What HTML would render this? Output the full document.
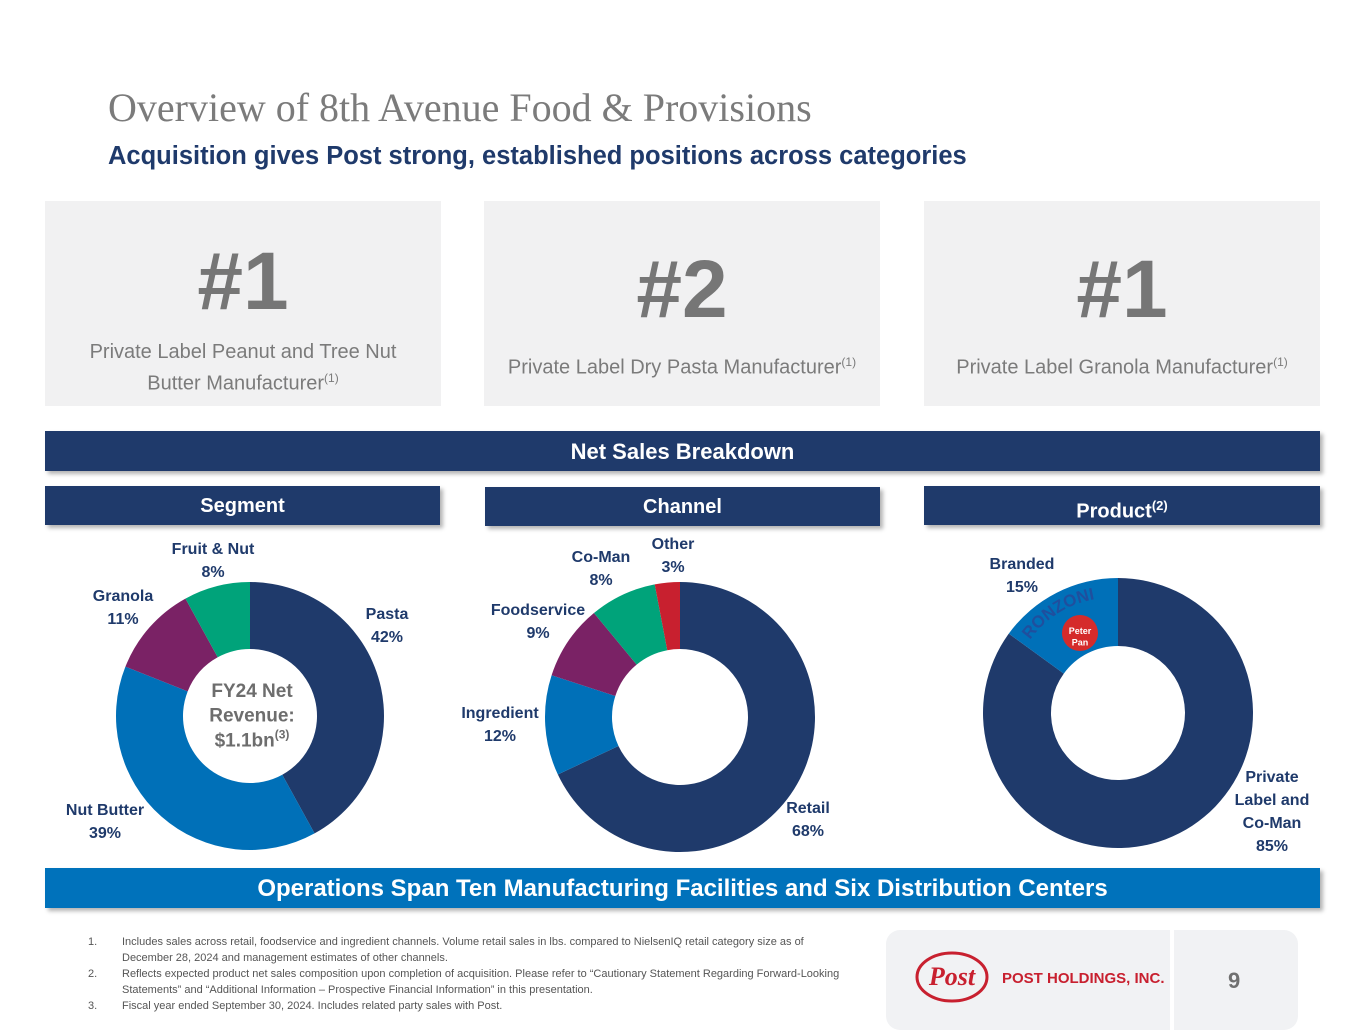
<!DOCTYPE html>
<html><head><meta charset="utf-8">
<style>
*{margin:0;padding:0;box-sizing:border-box}
body{width:1365px;height:1024px;background:#fff;position:relative;overflow:hidden;font-family:"Liberation Sans",sans-serif}
.abs{position:absolute}
.title{left:108px;top:84px;font-family:"Liberation Serif",serif;font-size:40px;color:#7b7b7b}
.sub{left:108px;top:142px;font-size:25.5px;font-weight:bold;color:#1f3a6b}
.box{top:201px;height:205px;width:396px;background:#f1f1f2;text-align:center;color:#7b7b7b}
.box .big{font-size:82px;font-weight:bold;color:#767676;margin-top:36px;line-height:90px}
.box .t{font-size:20px;line-height:26px;margin-top:8px}
.bar{background:#1f3a6b;color:#fff;font-weight:bold;text-align:center;box-shadow:3px 3px 4px rgba(0,0,0,.3)}
.foot{left:88px;font-size:11px;color:#555;line-height:16px;width:760px}
.foot span{position:absolute;left:0}
.foot div{margin-left:34px}
</style></head><body>
<div class="abs title">Overview of 8th Avenue Food &amp; Provisions</div>
<div class="abs sub">Acquisition gives Post strong, established positions across categories</div>

<div class="abs box" style="left:45px"><div class="big">#1</div><div class="t" style="margin-top:12px">Private Label Peanut and Tree Nut<br>Butter Manufacturer<sup style="font-size:12px">(1)</sup></div></div>
<div class="abs box" style="left:484px"><div class="big" style="margin-top:44px">#2</div><div class="t" style="margin-top:14px">Private Label Dry Pasta Manufacturer<sup style="font-size:12px">(1)</sup></div></div>
<div class="abs box" style="left:924px"><div class="big" style="margin-top:44px">#1</div><div class="t" style="margin-top:14px">Private Label Granola Manufacturer<sup style="font-size:12px">(1)</sup></div></div>

<div class="abs bar" style="left:45px;top:431px;width:1275px;height:40px;line-height:42px;font-size:22px">Net Sales Breakdown</div>
<div class="abs bar" style="left:45px;top:486px;width:395px;height:39px;line-height:40px;font-size:20px">Segment</div>
<div class="abs bar" style="left:485px;top:487px;width:395px;height:39px;line-height:40px;font-size:20px">Channel</div>
<div class="abs bar" style="left:924px;top:486px;width:396px;height:39px;line-height:40px;font-size:20px">Product<sup style="font-size:13px">(2)</sup></div>

<svg class="abs" style="left:0;top:0" width="1365" height="1024" id="charts"></svg>

<div class="abs bar" style="left:45px;top:868px;width:1275px;height:40px;line-height:42px;font-size:24px;background:#0072bb">Operations Span Ten Manufacturing Facilities and Six Distribution Centers</div>

<div class="abs foot" style="top:934px">
<p style="position:relative"><span>1.</span><div>Includes sales across retail, foodservice and ingredient channels. Volume retail sales in lbs. compared to NielsenIQ retail category size as of December 28, 2024 and management estimates of other channels.</div></p>
<p style="position:relative"><span>2.</span><div>Reflects expected product net sales composition upon completion of acquisition. Please refer to “Cautionary Statement Regarding Forward-Looking Statements” and “Additional Information – Prospective Financial Information” in this presentation.</div></p>
<p style="position:relative"><span>3.</span><div>Fiscal year ended September 30, 2024. Includes related party sales with Post.</div></p>
</div>

<div class="abs" style="left:886px;top:930px;width:412px;height:100px;background:#f1f2f4;border-radius:14px">
<div class="abs" style="left:284px;top:0;width:4px;height:100px;background:#fff"></div>
<svg class="abs" style="left:28px;top:20px" width="80" height="56"><ellipse cx="38" cy="27" rx="35" ry="24" fill="none" stroke="#c8202f" stroke-width="3"/><text x="38" y="35" text-anchor="middle" font-family="Liberation Serif" font-style="italic" font-weight="bold" font-size="26" fill="#c8202f">Post</text></svg>
<div class="abs" style="left:116px;top:40px;font-size:15px;font-weight:bold;color:#c8202f">POST HOLDINGS, INC.</div>
<div class="abs" style="left:342px;top:38px;font-size:22px;font-weight:bold;color:#707070">9</div>
</div>

<script>
const segCats=["Pasta","Nut Butter","Granola","Fruit & Nut"];
const segVals=[42,39,11,8];
const chCats=["Retail","Ingredient","Foodservice","Co-Man","Other"];
const chVals=[68,12,9,8,3];
const prCats=["Private Label and Co-Man","Branded"];
const prVals=[85,15];
const NS="http://www.w3.org/2000/svg";
const svg=document.getElementById('charts');
function pt(cx,cy,r,a){return [cx+r*Math.sin(a),cy-r*Math.cos(a)];}
function donut(cx,cy,ro,ri,vals,cats,colors,name){
  const tot=vals.reduce((a,b)=>a+b,0);let acc=0;
  vals.forEach((v,i)=>{
    const a0=acc/tot*2*Math.PI;acc+=v;const a1=acc/tot*2*Math.PI;
    const lg=(a1-a0)>Math.PI?1:0;
    const p0=pt(cx,cy,ro,a0),p1=pt(cx,cy,ro,a1),q1=pt(cx,cy,ri,a1),q0=pt(cx,cy,ri,a0);
    const p=document.createElementNS(NS,'path');
    p.setAttribute('d',`M${p0}A${ro},${ro} 0 ${lg} 1 ${p1}L${q1}A${ri},${ri} 0 ${lg} 0 ${q0}Z`);
    p.setAttribute('fill',colors[i]);
    
    
    svg.appendChild(p);
  });
}
const navy="#1f3a6b",blue="#0070b8",purple="#7a2265",green="#00a37a",red="#c8202f";
donut(250,716,134,67,segVals,segCats,[navy,blue,purple,green],'segment');
donut(680,717,135,68,chVals,chCats,[navy,blue,purple,green,red],'channel');
donut(1118,713,135,67,prVals,prCats,[navy,blue],'product');
function label(x,y,lines,name,anchor,color,size){
  const t=document.createElementNS(NS,'text');
  t.setAttribute('x',x);t.setAttribute('y',y);t.setAttribute('text-anchor',anchor||'middle');
  t.setAttribute('font-family','Liberation Sans');t.setAttribute('font-weight','bold');
  t.setAttribute('font-size',size||16);t.setAttribute('fill',color||navy);
  
  
  lines.forEach((l,i)=>{const s=document.createElementNS(NS,'tspan');s.setAttribute('x',x);s.setAttribute('dy',i?(size?size*1.3:23):0);s.textContent=l;t.appendChild(s);});
  svg.appendChild(t);
  return t;
}
label(387,619,[segCats[0],segVals[0]+'%'],'label-pasta');
label(105,815,[segCats[1],segVals[1]+'%'],'label-nut-butter');
label(123,601,[segCats[2],segVals[2]+'%'],'label-granola');
label(213,554,[segCats[3],segVals[3]+'%'],'label-fruit-nut');
const rev=label(252,697,['FY24 Net','Revenue:','$1.1bn'],'center-revenue-label','middle','#6d6d6d',19);
const lastLine=rev.lastChild;
const sup=document.createElementNS(NS,'tspan');
sup.setAttribute('dy',-8);sup.setAttribute('font-size',12);sup.textContent='(3)';
lastLine.appendChild(sup);
label(808,813,[chCats[0],chVals[0]+'%'],'label-retail');
label(500,718,[chCats[1],chVals[1]+'%'],'label-ingredient');
label(538,615,[chCats[2],chVals[2]+'%'],'label-foodservice');
label(601,562,[chCats[3],chVals[3]+'%'],'label-co-man');
label(673,549,[chCats[4],chVals[4]+'%'],'label-other');
label(1022,569,[prCats[1],prVals[1]+'%'],'label-branded');
label(1272,782,['Private','Label and','Co-Man',prVals[0]+'%'],'label-private-label');
const defs=document.createElementNS(NS,'defs');
defs.innerHTML='<path id="ronz" d="M1030,640 A100,100 0 0 1 1105,598"/>';
svg.appendChild(defs);
const rt=document.createElementNS(NS,'text');
rt.setAttribute('font-family','Liberation Sans');rt.setAttribute('font-weight','bold');rt.setAttribute('font-size',17);rt.setAttribute('fill','#1f4f9e');
rt.innerHTML='<textPath href="#ronz">RONZONI</textPath>';


svg.appendChild(rt);
const c=document.createElementNS(NS,'circle');
c.setAttribute('cx',1080);c.setAttribute('cy',633);c.setAttribute('r',18);c.setAttribute('fill','#d52b2b');


svg.appendChild(c);
label(1080,634,['Peter','Pan'],'peter-pan-text','middle','#fff',9);
</script>
</body></html>
